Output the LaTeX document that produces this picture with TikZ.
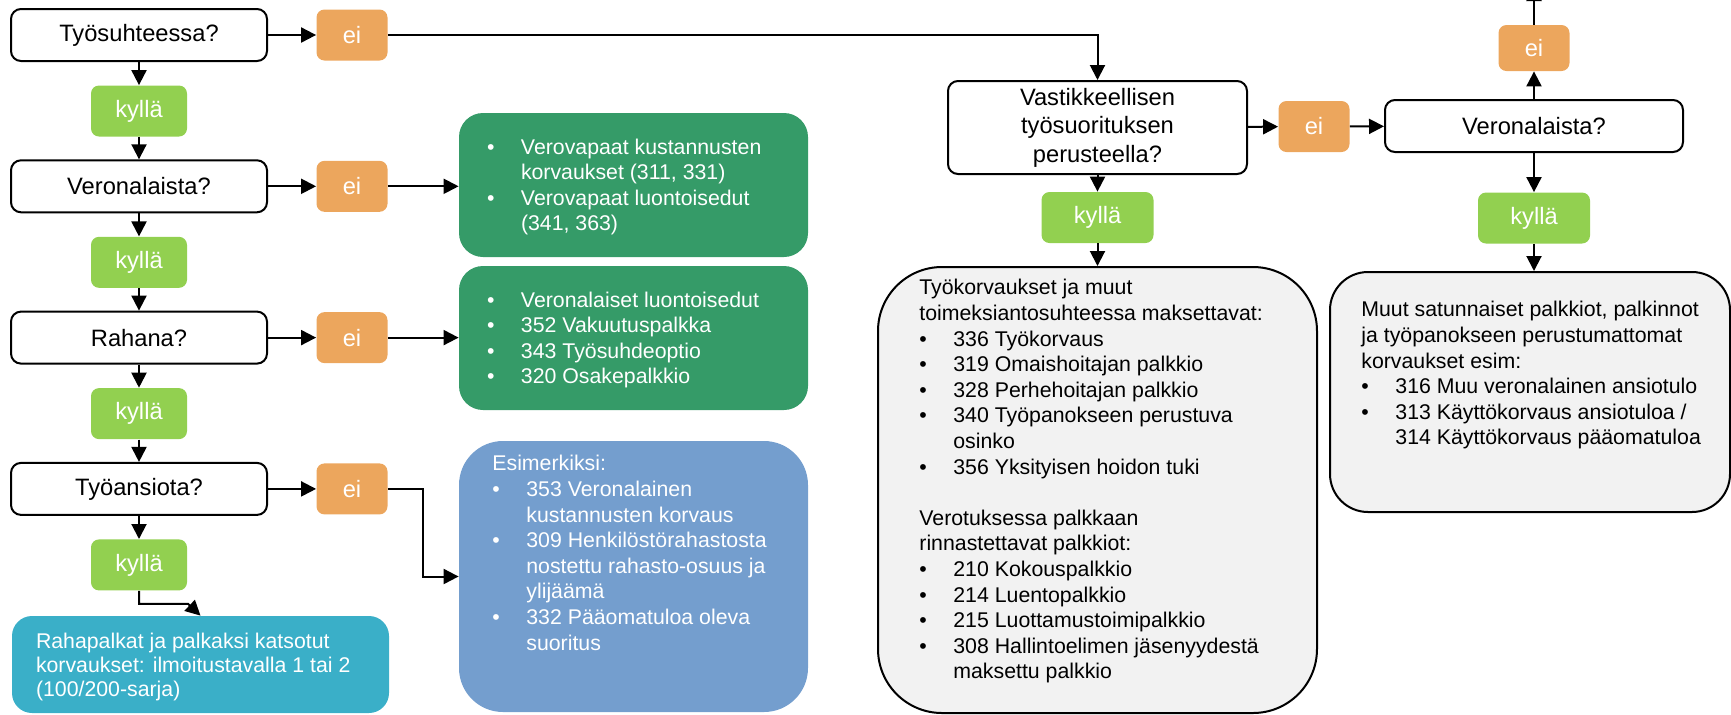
\documentclass[tikz,border=0pt]{standalone}
\usepackage{fontspec}
\setmainfont{Liberation Sans}
\usepackage{tikz}
\usetikzlibrary{calc, arrows.meta}

\definecolor{eiorange}{RGB}{236,166,93}
\definecolor{kygreen}{RGB}{146,208,80}
\definecolor{boxgreen}{RGB}{53,155,104}
\definecolor{boxblue}{RGB}{116,158,206}
\definecolor{boxteal}{RGB}{58,175,200}
\definecolor{boxgray}{RGB}{242,242,242}

\newcommand{\qfont}{\fontsize{11.85pt}{14.25pt}\selectfont}
\newcommand{\txtfont}{\fontsize{10.65pt}{12.8pt}\selectfont}
\newcommand{\bul}{\makebox[17pt][l]{\textbullet}}
\newcommand{\bind}{\hspace*{17pt}}

\begin{document}
\begin{tikzpicture}[x=0.5pt, y=-0.5pt]
  % -----------------------------
  % SETTINGS (pixel units, y grows down)
  % -----------------------------
  \def\xq{139}     % left question column
  \def\xe{352}     % left "ei" column
  \def\dy{151.3}   % row step of the left column
  \def\xv{1097.5}  % middle column
  \def\xw{1534}    % right column

  % -----------------------------
  % STYLES
  % -----------------------------
  \tikzset{
    qbox/.style={draw, line width=1pt, rounded corners=5pt, fill=white, minimum width=128pt,
      minimum height=26pt, inner sep=0pt, font=\qfont, align=center},
    eibox/.style={fill=eiorange, rounded corners=4pt, text=white, minimum width=35.5pt,
      minimum height=25.5pt, inner sep=0pt, font=\qfont},
    kybox/.style={fill=kygreen, rounded corners=4pt, text=white, minimum width=48pt,
      minimum height=25.5pt, inner sep=0pt, font=\qfont},
    infobox/.style={inner sep=0pt},
    txt/.style={inner sep=0pt, align=left, font=\txtfont},
    arr/.style={line width=1pt, -{Triangle[length=7.5pt, width=7.5pt]}},
  }

  \useasboundingbox (0,0) rectangle (1731,714);

  % -----------------------------
  % LEFT COLUMN (questions, ei, kyllä)
  % -----------------------------
  \foreach \q [count=\i] in {Työsuhteessa?, Veronalaista?, Rahana?, Työansiota?} {
    \pgfmathsetmacro{\y}{35+(\i-1)*\dy}
    \node[qbox] (Q\i) at (\xq,\y) {\q};
    \node[eibox] (E\i) at (\xe,\y) {ei};
    \node[kybox] (K\i) at (\xq,\y+76) {kyllä};
    \draw[arr] (Q\i) -- (E\i);
    \draw[arr] (Q\i) -- (K\i);
  }
  \foreach \i [evaluate=\i as \j using int(\i+1)] in {1,2,3}
    \draw[arr] (K\i) -- (Q\j);

  % -----------------------------
  % RESULT BOXES (left half)
  % -----------------------------
  \node[infobox, fill=boxgreen, rounded corners=12pt, minimum width=174.5pt, minimum height=72pt] (G1) at (633.5,185) {};
  \node[infobox, fill=boxgreen, rounded corners=12pt, minimum width=174.5pt, minimum height=72pt] (G2) at (633.5,338) {};
  \node[infobox, fill=boxblue, rounded corners=22pt, minimum width=174.5pt, minimum height=135.5pt] (B1) at (633.5,576.5) {};
  \node[infobox, fill=boxteal, rounded corners=10pt, minimum width=188.5pt, minimum height=48.5pt] (T1) at (200.5,664.5) {};

  \node[txt, text=white, anchor=west] (G1t) at ($(G1.west)+(28,2)$)
    {\bul Verovapaat kustannusten\\ \bind korvaukset (311, 331)\\
     \bul Verovapaat luontoisedut\\ \bind (341, 363)};
  \node[txt, text=white, anchor=west] (G2t) at ($(G2.west)+(28,2)$)
    {\bul Veronalaiset luontoisedut\\ \bul 352 Vakuutuspalkka\\
     \bul 343 Työsuhdeoptio\\ \bul 320 Osakepalkkio};
  \node[txt, text=white, anchor=north west] (B1t) at (492,455)
    {Esimerkiksi:\\ \bul 353 Veronalainen\\ \bind kustannusten korvaus\\
     \bul 309 Henkilöstörahastosta\\ \bind nostettu rahasto-osuus ja\\ \bind ylijäämä\\
     \bul 332 Pääomatuloa oleva\\ \bind suoritus};
  \node[txt, text=white, anchor=west, font=\fontsize{10.65pt}{12pt}\selectfont] (T1t) at ($(T1.west)+(24,2)$)
    {Rahapalkat ja palkaksi katsotut\\ korvaukset: ilmoitustavalla 1 tai 2\\ (100/200-sarja)};

  % -----------------------------
  % MIDDLE AND RIGHT COLUMNS
  % -----------------------------
  \node[qbox, minimum width=149.5pt, minimum height=46.5pt] (V1) at (\xv,127.5)
    {Vastikkeellisen\\työsuorituksen\\perusteella?};
  \node[eibox] (E5) at (1314,126.5) {ei};
  \node[kybox, minimum width=56pt] (K5) at (\xv,217.5) {kyllä};
  \node[qbox, minimum width=149pt] (Q5) at (\xw,126) {Veronalaista?};
  \node[eibox, minimum height=23pt] (E6) at (\xw,48) {ei};
  \node[kybox, minimum width=56pt] (K6) at (\xw,218) {kyllä};
  \coordinate (up) at (\xw,-14);

  \node[infobox, draw, line width=1pt, fill=boxgray, rounded corners=32pt, minimum width=219.5pt, minimum height=223pt] (GR1) at (\xv,490) {};
  \node[infobox, draw, line width=1pt, fill=boxgray, rounded corners=19pt, minimum width=200pt, minimum height=120pt] (GR2) at (1530,392) {};

  \node[txt, anchor=north west] (GR1t) at (919,279)
    {Työkorvaukset ja muut\\ toimeksiantosuhteessa maksettavat:\\
     \bul 336 Työkorvaus\\ \bul 319 Omaishoitajan palkkio\\ \bul 328 Perhehoitajan palkkio\\
     \bul 340 Työpanokseen perustuva\\ \bind osinko\\ \bul 356 Yksityisen hoidon tuki\\[12.8pt]
     Verotuksessa palkkaan\\ rinnastettavat palkkiot:\\
     \bul 210 Kokouspalkkio\\ \bul 214 Luentopalkkio\\ \bul 215 Luottamustoimipalkkio\\
     \bul 308 Hallintoelimen jäsenyydestä\\ \bind maksettu palkkio};
  \node[txt, anchor=north west] (GR2t) at (1361,301)
    {Muut satunnaiset palkkiot, palkinnot\\ ja työpanokseen perustumattomat\\ korvaukset esim:\\
     \bul 316 Muu veronalainen ansiotulo\\ \bul 313 Käyttökorvaus ansiotuloa /\\
     \bind 314 Käyttökorvaus pääomatuloa};

  % -----------------------------
  % CONNECTORS
  % -----------------------------
  \draw[arr] (E1) -| (V1);
  \draw[arr] (E2) -- (E2 -| G1.west);
  \draw[arr] (E3) -- (E3 -| G2.west);
  \draw[arr] (E4.east) -- ++(35,0) |- (B1);
  \draw[arr] (K4.south) -- ++(0,13) -- ++(49,0) -- (T1.north);
  \draw[arr] (V1) -- (K5);
  \draw[arr] (K5) -- (K5 |- GR1.north);
  \draw[arr] (V1) -- (E5);
  \draw[arr] (E5) -- (Q5);
  \draw[arr] (Q5) -- (E6);
  \draw[arr] (E6) -- (up);
  \draw[arr] (Q5) -- (K6);
  \draw[arr] (K6) -- (K6 |- GR2.north);
\end{tikzpicture}
\end{document}
